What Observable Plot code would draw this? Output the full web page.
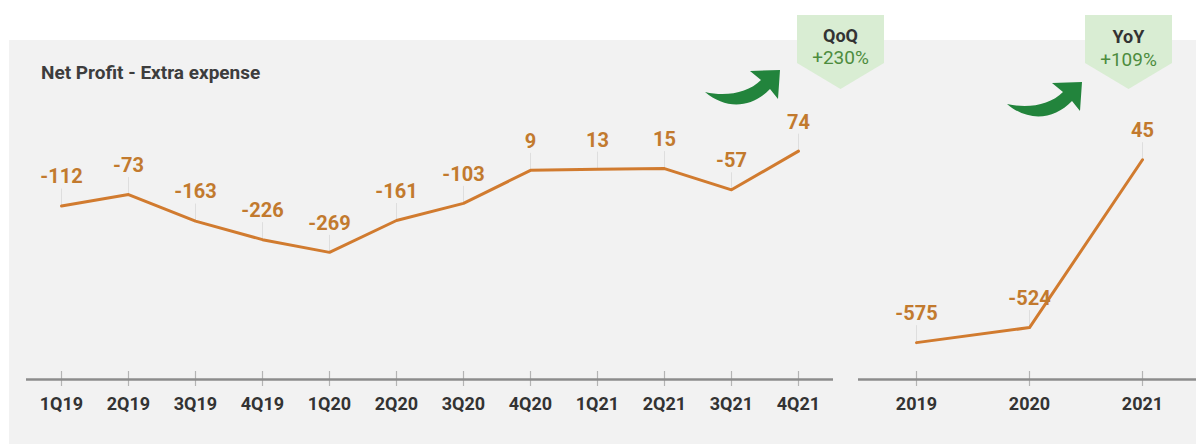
<!DOCTYPE html>
<html>
<head>
<meta charset="utf-8">
<script src="https://cdn.jsdelivr.net/npm/d3@7"></script>
<script src="https://cdn.jsdelivr.net/npm/@observablehq/plot@0.6"></script>
<style>
  html, body { margin: 0; padding: 0; background: #ffffff; }
  #wrap { position: relative; width: 1196px; height: 444px; overflow: hidden; font-family: Roboto, "Open Sans", sans-serif; }
  #bg { position: absolute; left: 9px; top: 40px; right: 0; bottom: 0; background: #f2f2f2; }
  #title { position: absolute; left: 41px; top: 61px; font-size: 19px; line-height: 24px; font-weight: 700; color: #3d3d3d; }
  #left { position: absolute; left: 0; top: 0; }
  #right { position: absolute; left: 840px; top: 0; }
  #overlay { position: absolute; left: 0; top: 0; pointer-events: none; }
</style>
</head>
<body>
<div id="wrap">
  <div id="bg"></div>
  <div id="title">Net Profit - Extra expense</div>
  <div id="left"></div>
  <div id="right"></div>
  <svg id="overlay" width="1196" height="444"></svg>
</div>
<script>
// ---- Data ----
const quarters = ["1Q19","2Q19","3Q19","4Q19","1Q20","2Q20","3Q20","4Q20","1Q21","2Q21","3Q21","4Q21"];
const quarterValues = [-112, -73, -163, -226, -269, -161, -103, 9, 13, 15, -57, 74];
const years = ["2019","2020","2021"];
const yearValues = [-575, -524, 45];
const badgeTitles = ["QoQ", "YoY"];
const badgeValues = ["+230%", "+109%"];
const yDomain = [-700, 100];

const qData = quarters.map((q, i) => ({ period: q, value: quarterValues[i] }));
const yData = years.map((y, i) => ({ period: y, value: yearValues[i] }));

const lineColor = "#d17b2f";
const labelColor = "#c27a2e";

function panel(data, domain, opts) {
  return Plot.plot({
    width: opts.width,
    height: 444,
    marginTop: 0,
    marginBottom: 66,
    marginLeft: opts.marginLeft,
    marginRight: opts.marginRight,
    style: { background: "transparent", fontFamily: "Roboto, sans-serif", overflow: "visible" },
    x: { type: "point", domain: domain, range: opts.xRange, padding: 0, label: null },
    y: { domain: yDomain, range: [379, 143], axis: null },
    marks: [
      Plot.ruleX(domain, { x: d => d, y1: yDomain[0], y2: yDomain[0], insetTop: -8, insetBottom: -7, stroke: "#b4b4b4", strokeWidth: 1.2 }),
      Plot.ruleY([yDomain[0]], { stroke: "#8c8c8c", strokeWidth: 2.5 }),
      Plot.axisX({ tickSize: 0, tickPadding: 19, fontSize: 18, fontWeight: 700, fill: "#333333" }),
      Plot.ruleX(data, { x: "period", y1: "value", y2: "value", insetTop: -17, stroke: "#dedede", strokeWidth: 1 }),
      Plot.line(data, { x: "period", y: "value", stroke: lineColor, strokeWidth: 3, strokeLinejoin: "round" }),
      Plot.text(data, { x: "period", y: "value", text: d => String(d.value), dy: -29, fill: labelColor, fontSize: 20, fontWeight: 700 })
    ]
  });
}

document.getElementById("left").appendChild(
  panel(qData, quarters, { width: 840, marginLeft: 26, marginRight: 7, xRange: [60, 798] })
);
document.getElementById("right").appendChild(
  panel(yData, years, { width: 356, marginLeft: 18, marginRight: 0, xRange: [75, 302] })
);

// ---- Decorations: badges and arrows ----
const ns = "http://www.w3.org/2000/svg";
const ov = document.getElementById("overlay");
function el(tag, attrs, parent) {
  const e = document.createElementNS(ns, tag);
  for (const k in attrs) e.setAttribute(k, attrs[k]);
  (parent || ov).appendChild(e);
  return e;
}
const badgeX = [797, 1085];
const badgeBase = [[42, 64], [43, 66]];
const arrowShift = [[0, 0], [302, 12]];
badgeTitles.forEach((t, i) => {
  const x0 = badgeX[i], w = 87, cx = x0 + w / 2;
  el("polygon", { points: `${x0},15 ${x0 + w},15 ${x0 + w},63 ${cx},89 ${x0},63`, fill: "#d9edd3" });
  const t1 = el("text", { x: cx, y: badgeBase[i][0], "text-anchor": "middle", "font-size": 18, "font-weight": 700, fill: "#333333", "font-family": "Roboto, sans-serif" });
  t1.textContent = t;
  const t2 = el("text", { x: cx, y: badgeBase[i][1], "text-anchor": "middle", "font-size": 19, fill: "#4d8c3e", "font-family": "Roboto, sans-serif" });
  t2.textContent = badgeValues[i];
  const g = el("g", { transform: `translate(${arrowShift[i][0]},${arrowShift[i][1]})` });
  el("path", {
    d: "M705,92 C726,97 748,93 761,80 L750,71 L780,70 L778,99 L770,89 C752,108 726,110 705,92 Z",
    fill: "#22843c"
  }, g);
});
</script>
</body>
</html>
